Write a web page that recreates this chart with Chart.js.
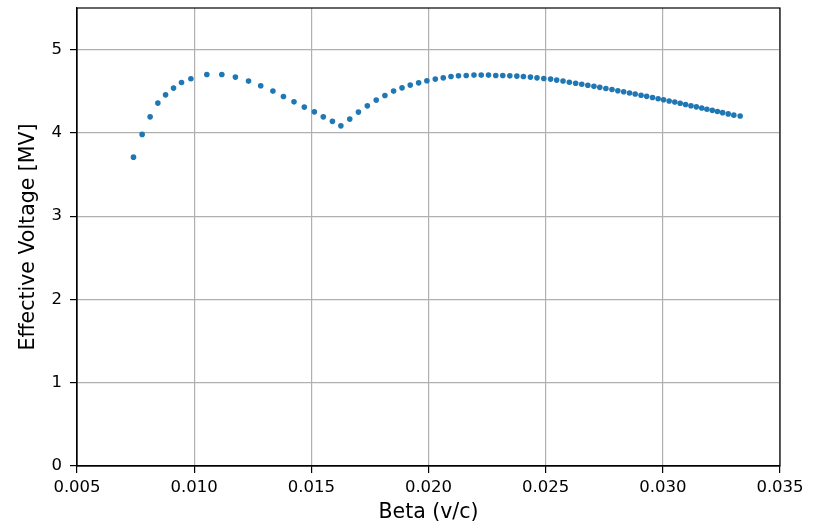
<!DOCTYPE html>
<html>
<head>
<meta charset="utf-8">
<script src="https://cdn.jsdelivr.net/npm/chart.js@4"></script>
<style>
  html, body { margin: 0; padding: 0; background: #fff; }
  canvas { display: block; }
</style>
</head>
<body>
<canvas id="voltChart" width="821" height="527"></canvas>
<script>
// ===== Data =====
const betaValues = [
    0.00741, 0.00778, 0.00812, 0.00845, 0.00878, 0.00912, 0.00946, 0.00986,
    0.01054, 0.01118, 0.01176, 0.01232, 0.01284, 0.01336, 0.01381, 0.01426,
    0.01470, 0.01513, 0.01551, 0.01590, 0.01626, 0.01664, 0.01701, 0.01739,
    0.01777, 0.01814, 0.01851, 0.01887, 0.01922, 0.01958, 0.01993, 0.02029,
    0.02063, 0.02096, 0.02128, 0.02161, 0.02194, 0.02225, 0.02256, 0.02287,
    0.02317, 0.02347, 0.02377, 0.02405, 0.02435, 0.02463, 0.02492, 0.02521,
    0.02547, 0.02574, 0.02601, 0.02628, 0.02654, 0.02680, 0.02706, 0.02731,
    0.02757, 0.02783, 0.02808, 0.02833, 0.02858, 0.02882, 0.02907, 0.02931,
    0.02956, 0.02980, 0.03003, 0.03027, 0.03051, 0.03074, 0.03097, 0.03120,
    0.03143, 0.03166, 0.03188, 0.03211, 0.03233, 0.03255, 0.03279, 0.03303,
    0.03330
];
const voltageValues = [
    3.709, 3.982, 4.193, 4.358, 4.457, 4.538, 4.606, 4.650,
    4.702, 4.702, 4.670, 4.622, 4.566, 4.502, 4.438, 4.373,
    4.310, 4.253, 4.193, 4.139, 4.085, 4.166, 4.250, 4.325,
    4.394, 4.450, 4.502, 4.541, 4.574, 4.601, 4.626, 4.646,
    4.661, 4.678, 4.685, 4.690, 4.694, 4.694, 4.694, 4.690,
    4.690, 4.685, 4.682, 4.678, 4.670, 4.661, 4.654, 4.646,
    4.634, 4.622, 4.609, 4.597, 4.584, 4.572, 4.559, 4.547,
    4.534, 4.521, 4.507, 4.494, 4.480, 4.467, 4.453, 4.439,
    4.425, 4.411, 4.398, 4.384, 4.370, 4.356, 4.341, 4.327,
    4.313, 4.299, 4.285, 4.271, 4.257, 4.243, 4.228, 4.213,
    4.203
];
const xTicks = [0.005, 0.010, 0.015, 0.020, 0.025, 0.030, 0.035];
const yTicks = [0, 1, 2, 3, 4, 5];

// ===== Plot frame (top/right spines) =====
const framePlugin = {
    id: 'frame',
    afterDraw(chart) {
        const { ctx, chartArea: a } = chart;
        ctx.save();
        ctx.strokeStyle = '#000';
        ctx.lineWidth = 1.2;
        ctx.strokeRect(a.left, a.top, a.right - a.left, a.bottom - a.top);
        ctx.restore();
    }
};

const points = betaValues.map((b, i) => ({ x: b, y: voltageValues[i] }));

const ctx = document.getElementById('voltChart').getContext('2d');
new Chart(ctx, {
    type: 'scatter',
    data: {
        datasets: [{
            data: points,
            backgroundColor: '#1f77b4',
            borderWidth: 0,
            pointRadius: 2.8,
            pointHoverRadius: 2.8
        }]
    },
    options: {
        responsive: false,
        animation: false,
        layout: { padding: { left: 16, top: 8, right: 41, bottom: 0 } },
        plugins: { legend: { display: false }, tooltip: { enabled: false } },
        scales: {
            x: {
                type: 'linear',
                min: 0.005,
                max: 0.035,
                afterBuildTicks: s => { s.ticks = xTicks.map(v => ({ value: v })); },
                afterFit: s => { s.height = 61; s.paddingLeft = 0; s.paddingRight = 0; },
                grid: { color: '#b0b0b0', lineWidth: 1.2, tickColor: '#000', tickLength: 7 },
                border: { color: '#000', width: 1.2 },
                ticks: {
                    color: '#000',
                    padding: 5,
                    maxRotation: 0,
                    font: { family: 'DejaVu Sans', size: 16.5 },
                    callback: v => v.toFixed(3)
                },
                title: {
                    display: true,
                    text: 'Beta (v/c)',
                    color: '#000',
                    font: { family: 'DejaVu Sans', size: 20.5 },
                    padding: { top: 0, bottom: 2 }
                }
            },
            y: {
                min: 0,
                max: 5.5,
                afterBuildTicks: s => { s.ticks = yTicks.map(v => ({ value: v })); },
                afterFit: s => { s.width = 61; s.paddingTop = 0; s.paddingBottom = 0; },
                grid: { color: '#b0b0b0', lineWidth: 1.2, tickColor: '#000', tickLength: 7 },
                border: { color: '#000', width: 1.2 },
                ticks: {
                    color: '#000',
                    padding: 8,
                    font: { family: 'DejaVu Sans', size: 16.5 },
                    callback: v => String(v)
                },
                title: {
                    display: true,
                    text: 'Effective Voltage [MV]',
                    color: '#000',
                    font: { family: 'DejaVu Sans', size: 20.5 },
                    padding: { top: 0, bottom: 0 }
                }
            }
        }
    },
    plugins: [framePlugin]
});
</script>
</body>
</html>
